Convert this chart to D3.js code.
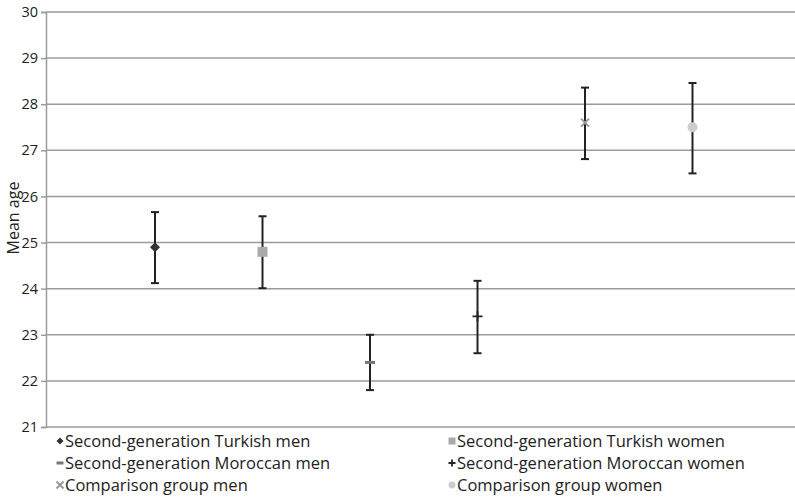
<!DOCTYPE html>
<html>
<head>
<meta charset="utf-8">
<script src="https://cdn.jsdelivr.net/npm/d3@7"></script>
<style>
  body { margin: 0; background: #fff; }
  text { font-family: "Open Sans", "Noto Sans", sans-serif; fill: #222; }
</style>
</head>
<body>
<div id="chart"></div>
<script>
const groups = ["Second-generation Turkish men", "Second-generation Turkish women",
	"Second-generation Moroccan men", "Second-generation Moroccan women",
	"Comparison group men", "Comparison group women"];
const means = [24.9, 24.8, 22.4, 23.4, 27.6, 27.5];
const upper = [25.66, 25.57, 23.0, 24.17, 28.36, 28.46];
const lower = [24.12, 24.01, 21.8, 22.6, 26.81, 26.5];
const yTicks = [21, 22, 23, 24, 25, 26, 27, 28, 29, 30];
const symbols = ["diamond", "square", "dash", "plus", "cross", "circle"];
const colors = ["#333", "#aaa", "#777", "#222", "#999", "#ccc"];

const width = 795, height = 503;
const plotLeft = 46, plotRight = 795, plotTop = 12, plotBottom = 427;

const svg = d3.select("#chart").append("svg")
	.attr("width", width).attr("height", height);

const x = d3.scalePoint().domain(groups).range([47.5, 800]).padding(1);
const y = d3.scaleLinear().domain([21, 30]).range([plotBottom, plotTop]);

// gridlines
svg.append("g").selectAll("line").data(yTicks).join("line")
	.attr("x1", plotLeft).attr("x2", plotRight)
	.attr("y1", d => y(d)).attr("y2", d => y(d))
	.attr("stroke", "#9b9b9b").attr("stroke-width", 1.5);

// y axis
const yAxis = svg.append("g")
	.attr("transform", "translate(" + plotLeft + ",0)")
	.call(d3.axisLeft(y).tickValues(yTicks).tickSize(5).tickPadding(3));
yAxis.select(".domain").attr("stroke", "#9b9b9b").attr("stroke-width", 1.5);
yAxis.selectAll(".tick line").attr("stroke", "#9b9b9b").attr("stroke-width", 1.5);
yAxis.selectAll(".tick text").style("font-size", "14.5px").attr("fill", "#222");

svg.append("text")
	.attr("transform", "translate(19," + 218 + ") rotate(-90)")
	.attr("text-anchor", "middle")
	.style("font-size", "16px")
	.text("Mean age");

function drawMarker(g, kind, color, size) {
	const s = size;
	if (kind === "diamond") {
		g.append("path").attr("d", `M0,${-s}L${s},0L0,${s}L${-s},0Z`).attr("fill", color);
	} else if (kind === "square") {
		g.append("rect").attr("x", -s).attr("y", -s).attr("width", 2 * s).attr("height", 2 * s).attr("fill", color);
	} else if (kind === "dash") {
		g.append("rect").attr("x", -s).attr("y", -1.5).attr("width", 2 * s).attr("height", 3).attr("fill", color);
	} else if (kind === "plus") {
		g.append("path").attr("d", `M${-s},0H${s}M0,${-s}V${s}`).attr("stroke", color).attr("stroke-width", 1.8);
	} else if (kind === "cross") {
		g.append("path").attr("d", `M${-s},${-s}L${s},${s}M${-s},${s}L${s},${-s}`).attr("stroke", color).attr("stroke-width", 2);
	} else if (kind === "circle") {
		g.append("circle").attr("r", s).attr("fill", color);
	}
}

// error bars
const bars = svg.append("g").selectAll("g").data(groups).join("g")
	.attr("transform", d => "translate(" + x(d) + ",0)");
bars.append("line")
	.attr("y1", (d, i) => y(upper[i])).attr("y2", (d, i) => y(lower[i]))
	.attr("stroke", "#222").attr("stroke-width", 2);
bars.append("line")
	.attr("x1", -4).attr("x2", 4)
	.attr("y1", (d, i) => y(upper[i])).attr("y2", (d, i) => y(upper[i]))
	.attr("stroke", "#222").attr("stroke-width", 2);
bars.append("line")
	.attr("x1", -4).attr("x2", 4)
	.attr("y1", (d, i) => y(lower[i])).attr("y2", (d, i) => y(lower[i]))
	.attr("stroke", "#222").attr("stroke-width", 2);

// means
groups.forEach((d, i) => {
	const g = svg.append("g").attr("transform", "translate(" + x(d) + "," + y(means[i]) + ")");
	drawMarker(g, symbols[i], colors[i], i === 4 ? 4 : 5);
});

// legend
const legend = svg.append("g");
groups.forEach((d, i) => {
	const col = i % 2, row = Math.floor(i / 2);
	const lx = col === 0 ? 60 : 452;
	const ly = 441 + row * 22;
	const g = legend.append("g").attr("transform", "translate(" + lx + "," + ly + ")");
	drawMarker(g.append("g"), symbols[i], colors[i], 3.5);
	g.append("text").attr("x", 5).attr("y", 0).attr("dy", "0.35em")
		.style("font-size", "16.5px").text(d);
});
</script>
</body>
</html>
